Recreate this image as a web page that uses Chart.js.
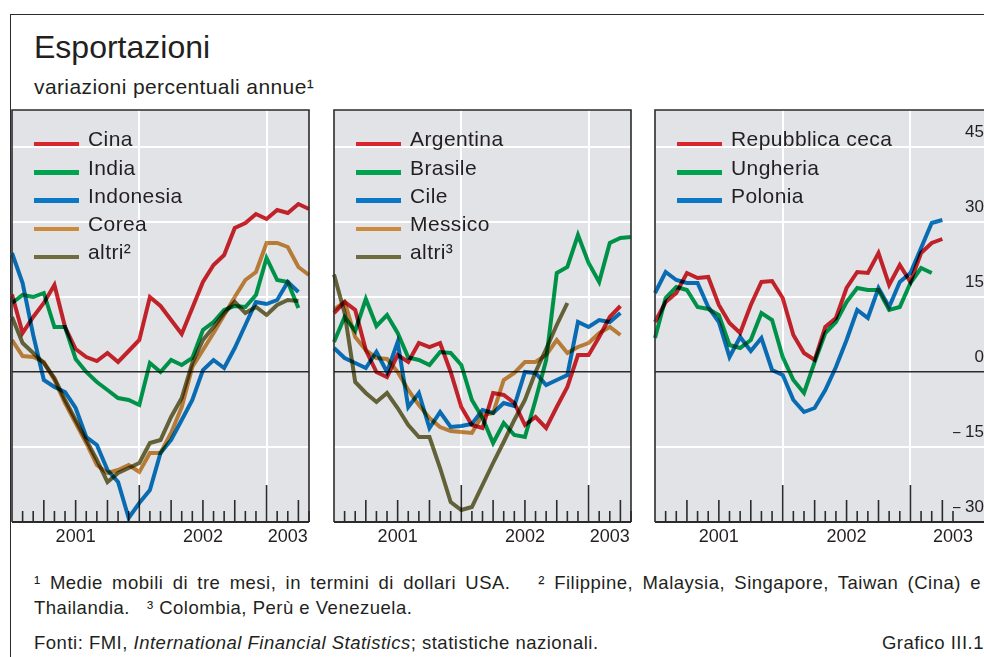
<!DOCTYPE html>
<html lang="it">
<head>
<meta charset="UTF-8">
<title>Esportazioni</title>
<script src="https://cdn.jsdelivr.net/npm/chart.js"></script>
<style>
  body { margin: 0; width: 984px; height: 657px; overflow: hidden; background: #fff; position: relative;
         font-family: 'Liberation Sans', Arial, sans-serif; color: #231f20; }
  .frame-top { position: absolute; left: 10px; top: 14px; width: 980px; border-top: 1.5px solid #2b2b2b; }
  .frame-left { position: absolute; left: 10px; top: 14px; height: 650px; border-left: 1.5px solid #2b2b2b; }
  h1 { position: absolute; left: 34px; top: 31px; margin: 0; font-size: 32px; line-height: 1; font-weight: normal; }
  .sub { position: absolute; left: 34px; top: 76px; font-size: 21px; line-height: 1; letter-spacing: 0.4px; }
  canvas { position: absolute; }
  .row { position: absolute; height: 28px; line-height: 28px; font-size: 21px; white-space: nowrap; letter-spacing: 0.4px; }
  .swatch { position: absolute; left: 0; top: 16.5px; width: 45px; height: 4.5px; }
  .txt { position: absolute; left: 54px; top: 0; }
  .note { position: absolute; left: 34px; font-size: 18.5px; line-height: 1; white-space: nowrap; letter-spacing: 0.5px; }
  .note.just { width: 947px; text-align: justify; text-align-last: justify; }
</style>
</head>
<body>
<div class="frame-top"></div>
<div class="frame-left"></div>
<h1>Esportazioni</h1>
<div class="sub">variazioni percentuali annue¹</div>

<div class="note just" style="top:574px">¹ Medie mobili di tre mesi, in termini di dollari USA.&nbsp;&nbsp;&nbsp;² Filippine, Malaysia, Singapore, Taiwan (Cina) e</div>
<div class="note" style="top:599px">Thailandia.&nbsp;&nbsp;&nbsp;³ Colombia, Perù e Venezuela.</div>
<div class="note" style="top:634px">Fonti: FMI, <i>International Financial Statistics</i>; statistiche nazionali.</div>
<div class="note" style="top:634px; left:auto; right:0">Grafico III.1</div>

<script>
// mesi da gennaio 2001 a maggio 2003
const months = ['gen 2001', 'feb 2001', 'mar 2001', 'apr 2001', 'mag 2001', 'giu 2001',
                'lug 2001', 'ago 2001', 'set 2001', 'ott 2001', 'nov 2001', 'dic 2001',
                'gen 2002', 'feb 2002', 'mar 2002', 'apr 2002', 'mag 2002', 'giu 2002',
                'lug 2002', 'ago 2002', 'set 2002', 'ott 2002', 'nov 2002', 'dic 2002',
                'gen 2003', 'feb 2003', 'mar 2003', 'apr 2003', 'mag 2003'];
const yearTicks = ['2001', '2002', '2003'];
const yTicks = [-30, -15, 0, 15, 30, 45];

// Asia
const cina      = [15.5, 7.8, 11, 13.8, 17.4, 9, 4.6, 3, 2.2, 3.8, 2, 4.2, 6.4, 15, 13.2, 10.4, 7.6, 12.8, 18, 21.4, 23.4, 28.8, 29.8, 31.6, 30.6, 32.4, 31.8, 33.6, 32.6];
const india     = [13.8, 15.4, 15, 15.8, 9, 9, 2.6, 0, -2, -3.6, -5.2, -5.6, -6.6, 1.8, 0, 2.4, 1.4, 2.8, 8.4, 10, 12.4, 13.2, 13, 15.4, 22.8, 18.4, 18, 12.8];
const indonesia = [23.8, 17.8, 7.4, -1.6, -3, -4, -7.2, -13, -14.6, -19.6, -22, -29.2, -26.2, -23.6, -16.2, -13.6, -9.6, -5.6, 0.4, 2.4, 0.8, 4.8, 9.4, 14, 13.6, 14.4, 18, 16];
const corea     = [6.4, 3.2, 3, 2, -1.6, -6.2, -10.2, -14.2, -18.6, -20.2, -19.6, -18.6, -20, -16.2, -16.2, -12.2, -7, 1, 4.4, 7.8, 11.4, 15, 18.4, 20, 25.8, 25.8, 25, 21, 19.4];
const altriAsia = [11, 5.8, 3.8, 1.8, -1.2, -5.6, -9.6, -13.6, -17.6, -22, -20.2, -19.2, -18.2, -14.2, -13.6, -9, -5.2, 1.8, 6.4, 9, 11.8, 14, 11.8, 13, 11.4, 13.4, 14.4, 14.2];

// America latina
const argentina  = [11.8, 14, 12.4, 4.4, 0, -1, 3.4, 2, 5.8, 5, 5.8, 0, -7, -10.6, -11.2, -4.2, -4.6, -6.2, -10.6, -9, -11.2, -7, -3, 3.4, 3.4, 7, 11, 13.2];
const brasile    = [6, 11, 8.2, 14.6, 9.2, 11.4, 7.8, 2.9, 2.4, 1.4, 4, 3.8, 1.4, -5.6, -9.2, -14.2, -10.2, -12.6, -13, -5.6, 2.4, 19.8, 21, 27.4, 21.8, 18, 25.8, 26.8, 27];
const cile       = [4.8, 2.8, 1.8, 0.8, 4, 0, 6, -7, -4.2, -11.2, -8, -11, -10.8, -10.4, -7.6, -8.2, -6.2, -6.8, 0, -0.2, -2.6, -1.6, -0.6, 10, 9, 10.4, 10, 11.8];
const messico    = [12.5, 14, 7, 4.4, 2.8, 2.6, 0, -3.6, -6.6, -9.2, -11, -11.8, -12, -12.2, -8.6, -8.2, -1.6, -0.2, 2, 2, 3.4, 6.4, 3.8, 5, 5.8, 7.8, 9, 7.4];
const altriLatam = [19.5, 11.8, -2, -4.2, -6, -4.2, -7.2, -10.6, -13, -13, -19.2, -26, -27.6, -27, -22.6, -18.2, -14, -9.6, -5.6, 0, 4.6, 9.4, 13.8];

// Europa centrale
const repCeca  = [10, 14, 15.8, 19.8, 18.8, 19, 13.4, 9.8, 7.8, 13.4, 18, 18.2, 14.8, 7.4, 3.8, 2.4, 9, 10.8, 16.8, 20, 19.8, 23.8, 17.4, 21.4, 18, 23.8, 25.8, 26.6];
const ungheria = [6.8, 14.8, 17, 16.4, 13, 12.6, 11.4, 5.4, 4.8, 6.4, 11.8, 10.4, 3, -1.6, -4.2, 2, 7.8, 10, 14, 16.8, 16.4, 16.4, 12.4, 13, 17.8, 20.8, 19.8];
const polonia  = [15.8, 20, 18.4, 17.8, 17.8, 13, 10, 3, 7, 4.2, 6.8, 0.4, -0.6, -5.6, -8, -7.2, -3.6, 1, 6.4, 12.4, 10.8, 16.8, 13, 18, 19.8, 24.8, 29.8, 30.4];

const RED = '#d9262e', GREEN = '#00a34f', BLUE = '#0a78c4', ORANGE = '#cc8a3c', OLIVE = '#6f6d3d';
const INK = '#231f20', LINE = '#2b2b2b', BG = '#e2e3e7';

const panels = [
  { left: 11, names: ['Cina', 'India', 'Indonesia', 'Corea', 'altri²'],
    series: [cina, india, indonesia, corea, altriAsia], colors: [RED, GREEN, BLUE, ORANGE, OLIVE],
    yearAt: [6, 18, 26] },
  { left: 333, names: ['Argentina', 'Brasile', 'Cile', 'Messico', 'altri³'],
    series: [argentina, brasile, cile, messico, altriLatam], colors: [RED, GREEN, BLUE, ORANGE, OLIVE],
    yearAt: [6, 18, 26] },
  { left: 654, names: ['Repubblica ceca', 'Ungheria', 'Polonia'],
    series: [repCeca, ungheria, polonia], colors: [RED, GREEN, BLUE],
    yearAt: [6, 18, 28], axis: true }
];

const PLOT_W = 299, PLOT_TOP = 110, PLOT_H = 412, PAD = 3, AXIS_W = 31, XAXIS_H = 33;

// sfondo grigio, cornice e tacche mensili
const framePlugin = {
  id: 'frame',
  beforeDraw(chart, args, opts) {
    const { ctx, chartArea: a } = chart;
    const right = opts.extend ? chart.width : a.right;
    ctx.save();
    ctx.fillStyle = BG;
    ctx.fillRect(a.left, a.top, right - a.left, a.bottom - a.top);
    ctx.restore();
  },
  beforeDatasetsDraw(chart) {
    const { ctx, chartArea: a, scales: { x } } = chart;
    ctx.save();
    ctx.strokeStyle = LINE;
    ctx.lineWidth = 1.6;
    for (let i = 1; i < months.length; i++) {
      const m = months[i].slice(0, 3);
      const h = m === 'gen' ? 37 : (m === 'apr' || m === 'lug' || m === 'ott') ? 22 : 11;
      const px = x.getPixelForValue(i);
      ctx.beginPath();
      ctx.moveTo(px, a.bottom);
      ctx.lineTo(px, a.bottom - h);
      ctx.stroke();
    }
    ctx.restore();
    // incroci scuri come nella stampa
    ctx.save();
    ctx.globalCompositeOperation = 'multiply';
  },
  afterDatasetsDraw(chart) {
    chart.ctx.restore();
  },
  afterDraw(chart, args, opts) {
    const { ctx, chartArea: a } = chart;
    const right = opts.extend ? chart.width : a.right;
    ctx.save();
    ctx.strokeStyle = LINE;
    ctx.lineWidth = 1.6;
    ctx.beginPath();
    ctx.moveTo(a.left, a.bottom); ctx.lineTo(a.left, a.top); ctx.lineTo(right, a.top);
    if (!opts.extend) ctx.lineTo(a.right, a.bottom);
    ctx.stroke();
    ctx.lineWidth = 2;
    ctx.beginPath();
    ctx.moveTo(a.left, a.bottom); ctx.lineTo(right, a.bottom);
    ctx.stroke();
    ctx.restore();
  }
};

function buildLegend(p) {
  p.names.forEach((name, i) => {
    const row = document.createElement('div');
    row.className = 'row';
    row.style.left = (p.left + 23) + 'px';
    row.style.top = (125.2 + 28.3 * i) + 'px';
    row.innerHTML = '<div class="swatch" style="background:' + p.colors[i] + '"></div><span class="txt">' + name + '</span>';
    document.body.appendChild(row);
  });
}

function buildPanel(p) {
  const canvas = document.createElement('canvas');
  const w = PAD + PLOT_W + (p.axis ? AXIS_W : PAD);
  const h = PAD + PLOT_H + XAXIS_H;
  canvas.width = w; canvas.height = h;
  canvas.style.left = (p.left - PAD) + 'px';
  canvas.style.top = (PLOT_TOP - PAD) + 'px';
  document.body.appendChild(canvas);

  const gridColor = c => c.tick.value === 0 ? LINE : (c.tick.value === yTicks[0] ? 'rgba(0,0,0,0)' : '#ffffff');

  new Chart(canvas, {
    type: 'line',
    data: {
      labels: months,
      datasets: p.series.map((s, i) => ({
        label: p.names[i],
        data: s,
        borderColor: p.colors[i],
        borderWidth: 4,
        pointRadius: 0,
        tension: 0,
        fill: false
      }))
    },
    options: {
      responsive: false,
      animation: false,
      devicePixelRatio: 1,
      layout: { padding: { left: PAD, right: p.axis ? 0 : PAD, top: PAD, bottom: 0 } },
      plugins: { legend: { display: false }, tooltip: { enabled: false }, frame: { extend: !!p.axis } },
      scales: {
        x: {
          grid: {
            color: c => (months[c.index] || '').startsWith('gen') && c.index > 0 ? '#ffffff' : 'rgba(0,0,0,0)',
            lineWidth: 2,
            drawTicks: false
          },
          border: { display: false },
          ticks: {
            autoSkip: false, maxRotation: 0, minRotation: 0, padding: 4,
            color: INK, font: { family: "'Liberation Sans', Arial, sans-serif", size: 18 },
            callback: (v, i) => { const j = p.yearAt.indexOf(i); return j >= 0 ? yearTicks[j] : ''; }
          },
          afterFit: s => { s.height = XAXIS_H; }
        },
        y: {
          position: p.axis ? 'right' : 'left',
          min: yTicks[0],
          max: 52.4,
          afterBuildTicks: s => { s.ticks = yTicks.map(v => ({ value: v })); },
          afterFit: s => { s.width = p.axis ? AXIS_W : 0; },
          border: { display: false },
          grid: {
            color: gridColor,
            lineWidth: c => c.tick.value === 0 ? 1.5 : 2,
            drawTicks: !!p.axis,
            tickLength: AXIS_W
          },
          ticks: {
            display: !!p.axis,
            padding: -33,
            crossAlign: 'far',
            labelOffset: -15,
            color: INK,
            font: { family: "'Liberation Sans', Arial, sans-serif", size: 17 },
            callback: v => v < 0 ? '– ' + Math.abs(v) : String(v)
          }
        }
      }
    },
    plugins: [framePlugin]
  });
  buildLegend(p);
}

panels.forEach(buildPanel);
</script>
</body>
</html>
